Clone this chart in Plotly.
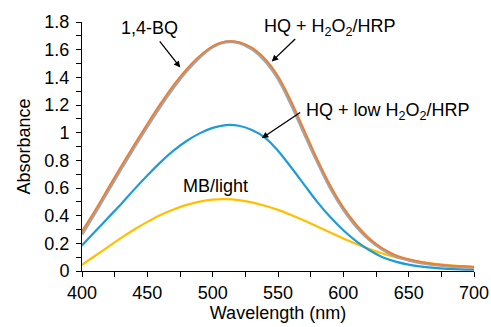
import plotly.graph_objects as go

wavelength = [400, 410, 420, 430, 440, 450, 460, 470, 480, 490, 500, 510, 520, 530, 540,
              550, 560, 570, 580, 590, 600, 610, 620, 630, 640, 650, 660, 670, 680, 690, 700]

bq = [0.265, 0.42, 0.58, 0.74, 0.895, 1.045, 1.19, 1.325, 1.445, 1.545, 1.62, 1.655, 1.65, 1.605, 1.52,
      1.39, 1.205, 0.995, 0.79, 0.60, 0.445, 0.32, 0.225, 0.155, 0.105, 0.078, 0.058, 0.045, 0.035, 0.03, 0.025]
hq_high = [0.29, 0.44, 0.60, 0.76, 0.915, 1.065, 1.21, 1.345, 1.46, 1.555, 1.625, 1.66, 1.655, 1.615, 1.535,
           1.41, 1.23, 1.02, 0.81, 0.62, 0.46, 0.335, 0.235, 0.165, 0.115, 0.085, 0.065, 0.05, 0.04, 0.035, 0.03]
hq_low = [0.185, 0.285, 0.385, 0.485, 0.59, 0.69, 0.785, 0.87, 0.94, 0.995, 1.035, 1.055, 1.05, 1.02, 0.965,
          0.87, 0.75, 0.625, 0.50, 0.39, 0.295, 0.215, 0.15, 0.10, 0.068, 0.046, 0.032, 0.022, 0.016, 0.012, 0.01]
mb_light = [0.045, 0.11, 0.175, 0.24, 0.30, 0.355, 0.405, 0.445, 0.478, 0.502, 0.516, 0.519, 0.512, 0.496, 0.472,
            0.442, 0.405, 0.365, 0.322, 0.278, 0.235, 0.195, 0.158, 0.126, 0.10, 0.08, 0.064, 0.052, 0.043, 0.036, 0.03]

x_ticks = [400, 450, 500, 550, 600, 650, 700]
y_ticks = [0, 0.2, 0.4, 0.6, 0.8, 1, 1.2, 1.4, 1.6, 1.8]

FONT = "Liberation Sans, Arial, sans-serif"

fig = go.Figure()
fig.add_trace(go.Scatter(x=wavelength, y=mb_light, mode="lines",
                         line=dict(color="#FFC000", width=2.2, shape="spline"), name="MB/light"))
fig.add_trace(go.Scatter(x=wavelength, y=hq_low, mode="lines",
                         line=dict(color="#1F9BD7", width=2.2, shape="spline"), name="HQ + low H2O2/HRP"))
fig.add_trace(go.Scatter(x=wavelength, y=bq, mode="lines",
                         line=dict(color="#A5A5A5", width=3, shape="spline"), name="1,4-BQ"))
fig.add_trace(go.Scatter(x=wavelength, y=hq_high, mode="lines",
                         line=dict(color="#ED7D31", width=1.8, shape="spline"), name="HQ + H2O2/HRP"))

axis_common = dict(showline=True, linecolor="#000", linewidth=1, ticks="outside", ticklen=5,
                   tickcolor="#000", showgrid=False, zeroline=False, automargin=False,
                   tickfont=dict(family=FONT, size=18, color="#000"))

fig.update_xaxes(range=[400, 700], tickvals=x_ticks, ticklabelstandoff=0,
                 minor=dict(dtick=25, ticks="outside", ticklen=5, tickcolor="#000"),
                 title=dict(text="Wavelength (nm)", font=dict(family=FONT, size=18, color="#000"), standoff=2),
                 **axis_common)
fig.update_yaxes(range=[0, 1.8], tickvals=y_ticks, ticklabelstandoff=3,
                 minor=dict(dtick=0.1, ticks="outside", ticklen=5, tickcolor="#000"),
                 title=dict(text="Absorbance", font=dict(family=FONT, size=18, color="#000"), standoff=9),
                 **axis_common)

afont = dict(family=FONT, size=18, color="#000")
annotations = [
    dict(x=451.4, y=1.755, text="1,4-BQ", showarrow=False, font=afont),
    dict(x=589.5, y=1.76, text="HQ + H<sub>2</sub>O<sub>2</sub>/HRP", showarrow=False, font=afont),
    dict(x=634.0, y=1.15, text="HQ + low H<sub>2</sub>O<sub>2</sub>/HRP", showarrow=False, font=afont),
    dict(x=502.5, y=0.615, text="MB/light", showarrow=False, font=afont),
    dict(x=475.2, y=1.471, ax=458.6, ay=1.671, axref="x", ayref="y", text="", showarrow=True,
         arrowhead=2, arrowsize=1, arrowwidth=1.3, arrowcolor="#000"),
    dict(x=545.2, y=1.514, ax=564.3, ay=1.688, axref="x", ayref="y", text="", showarrow=True,
         arrowhead=2, arrowsize=1, arrowwidth=1.3, arrowcolor="#000"),
    dict(x=537.6, y=0.960, ax=568.1, ay=1.153, axref="x", ayref="y", text="", showarrow=True,
         arrowhead=2, arrowsize=1, arrowwidth=1.3, arrowcolor="#000"),
]
fig.update_layout(annotations=annotations)

fig.update_layout(width=491, height=327, margin=dict(l=81.5, r=16.5, t=22, b=56, autoexpand=False),
                  plot_bgcolor="white", paper_bgcolor="white", showlegend=False)

fig.write_html("out.html")
